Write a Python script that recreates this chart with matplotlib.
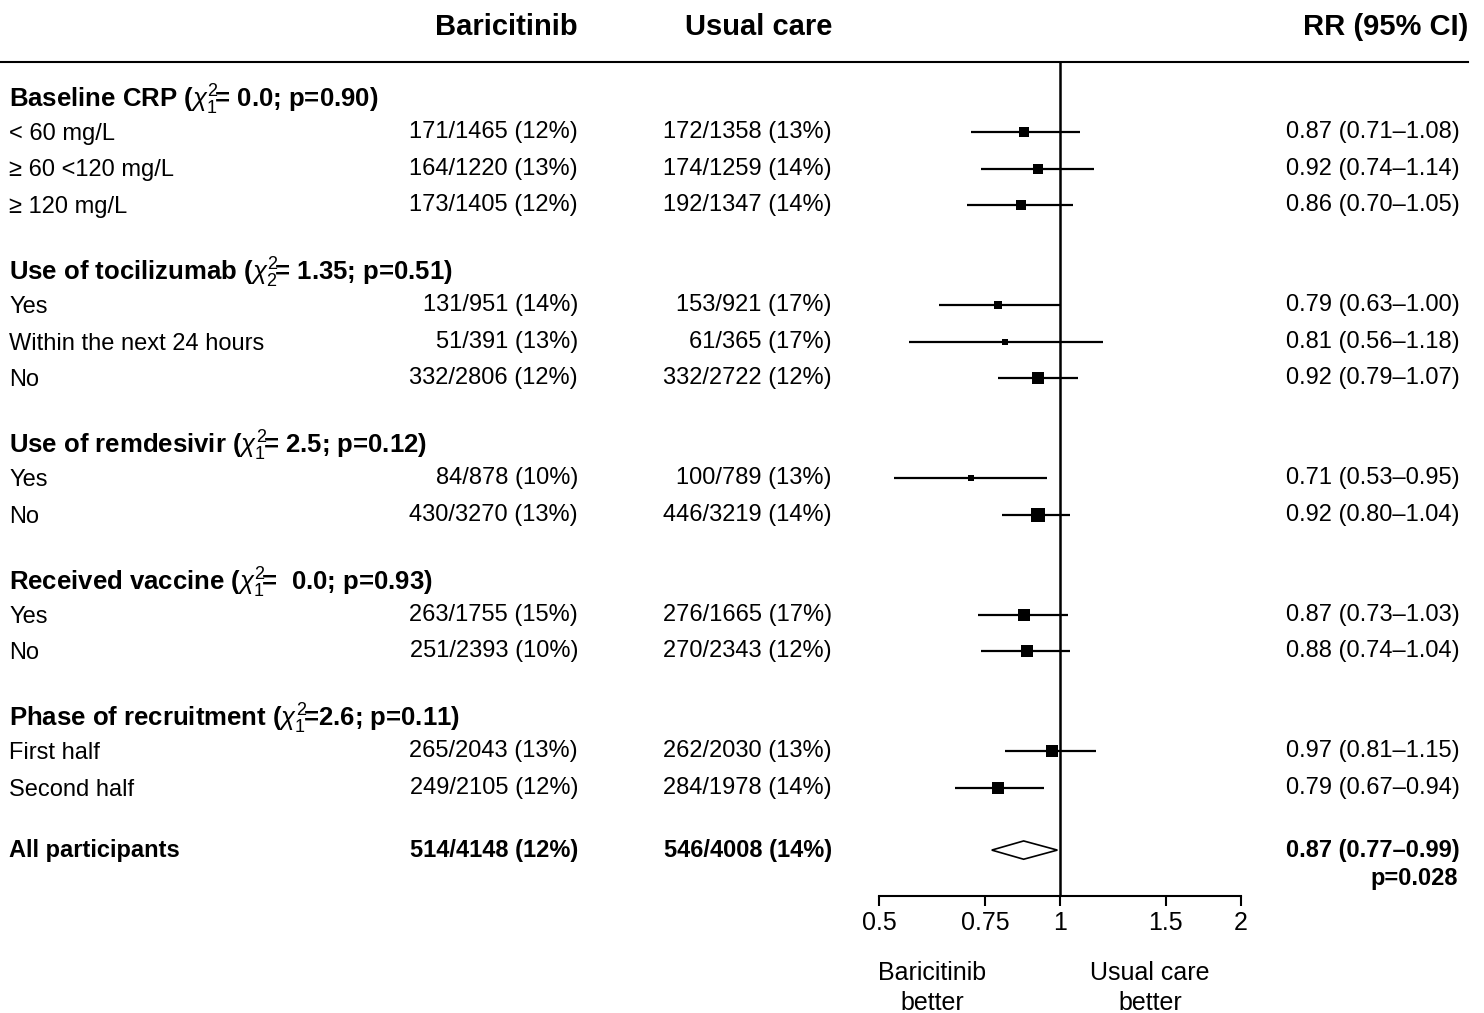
import numpy as np
import matplotlib
matplotlib.use('Agg')
import matplotlib.pyplot as plt
from matplotlib import transforms

plt.rcParams['font.family'] = ['Liberation Sans', 'DejaVu Sans']
plt.rcParams['mathtext.fontset'] = 'custom'
plt.rcParams['mathtext.rm'] = 'Liberation Sans'
plt.rcParams['mathtext.it'] = 'Liberation Sans:italic'
plt.rcParams['mathtext.bf'] = 'Liberation Sans:bold'

# Datos
grupos = [r'Baseline CRP ($\chi^2_1\!$= 0.0; p=0.90)',
          r'Use of tocilizumab ($\chi^2_2\!$= 1.35; p=0.51)',
          r'Use of remdesivir ($\chi^2_1\!$= 2.5; p=0.12)',
          r'Received vaccine ($\chi^2_1\!$=  0.0; p=0.93)',
          r'Phase of recruitment ($\chi^2_1\!$=2.6; p=0.11)']
n_por_grupo = [3, 3, 2, 2, 2]

etiquetas = ['< 60 mg/L', '\u2265 60 <120 mg/L', '\u2265 120 mg/L',
             'Yes', 'Within the next 24 hours', 'No',
             'Yes', 'No',
             'Yes', 'No',
             'First half', 'Second half']
baricitinib = ['171/1465 (12%)', '164/1220 (13%)', '173/1405 (12%)',
               '131/951 (14%)', '51/391 (13%)', '332/2806 (12%)',
               '84/878 (10%)', '430/3270 (13%)',
               '263/1755 (15%)', '251/2393 (10%)',
               '265/2043 (13%)', '249/2105 (12%)']
usual = ['172/1358 (13%)', '174/1259 (14%)', '192/1347 (14%)',
         '153/921 (17%)', '61/365 (17%)', '332/2722 (12%)',
         '100/789 (13%)', '446/3219 (14%)',
         '276/1665 (17%)', '270/2343 (12%)',
         '262/2030 (13%)', '284/1978 (14%)']
rr = [0.87, 0.92, 0.86, 0.79, 0.81, 0.92, 0.71, 0.92, 0.87, 0.88, 0.97, 0.79]
lo = [0.71, 0.74, 0.70, 0.63, 0.56, 0.79, 0.53, 0.80, 0.73, 0.74, 0.81, 0.67]
hi = [1.08, 1.14, 1.05, 1.00, 1.18, 1.07, 0.95, 1.04, 1.03, 1.04, 1.15, 0.94]
tam = [10, 10, 10, 9, 6, 13, 7, 15, 12, 12, 12, 12]  # lado del cuadrado (px)

total_bari = '514/4148 (12%)'
total_usual = '546/4008 (14%)'
total_rr, total_lo, total_hi = 0.87, 0.77, 0.99
total_p = 'p=0.028'

ticks = [0.5, 0.75, 1, 1.5, 2]

# Posiciones de filas (en unidades de fila)
y_filas = []
y_grupos = []
y = 0.0
for g, n in enumerate(n_por_grupo):
    if g > 0:
        y += 2.73
    y_grupos.append(y - 0.88)
    for k in range(n):
        y_filas.append(y)
        y += 1
    y -= 1
y_total = y + 1.7

W, H = 1484, 1013
fig = plt.figure(figsize=(W / 100, H / 100), dpi=100)
ax = fig.add_axes([879 / W, (H - 896) / H, (1241 - 879) / W, (896 - 62) / H])
ax.set_xscale('log', base=2)
ax.set_xlim(0.5, 2)
ax.set_ylim((896 - 132) / 36.6, (62 - 132) / 36.6)

# Intervalos y cuadrados
for i in range(len(rr)):
    ax.plot([lo[i], hi[i]], [y_filas[i], y_filas[i]], color='black', lw=1.6,
            solid_capstyle='butt')
    ax.plot(rr[i], y_filas[i], marker='s', color='black', markersize=tam[i] / 1.389,
            markeredgewidth=0)

# Diamante global
h = 0.25
ax.fill([total_lo, total_rr, total_hi, total_rr],
        [y_total, y_total - h, y_total, y_total + h],
        facecolor='white', edgecolor='black', lw=1.2)

ax.axvline(1, color='black', lw=1.8)

for s in ['top', 'right', 'left']:
    ax.spines[s].set_visible(False)
ax.spines['bottom'].set_linewidth(1.5)
ax.set_yticks([])
ax.set_xticks(ticks)
ax.set_xticklabels(['0.5', '0.75', '1', '1.5', '2'])
ax.minorticks_off()
ax.tick_params(axis='x', direction='out', length=7, width=1.5, labelsize=18, pad=4)

# Textos
tr = transforms.blended_transform_factory(fig.transFigure, ax.transData)
x_lab = 9 / W
x_bari = 578 / W
x_usual = 832 / W
x_rr = 1460 / W
fs = 17

ax.plot([0, 1468 / W], [(62 - 132) / 36.6] * 2, transform=tr, color='black',
        lw=1.5, clip_on=False)

y_head = (27 - 132) / 36.6
ax.text(x_bari, y_head, 'Baricitinib', transform=tr, ha='right', va='center',
        fontsize=21, fontweight='bold')
ax.text(x_usual, y_head, 'Usual care', transform=tr, ha='right', va='center',
        fontsize=21, fontweight='bold')
ax.text(1468 / W, y_head, 'RR (95% CI)', transform=tr, ha='right', va='center',
        fontsize=21, fontweight='bold')

for g in range(len(grupos)):
    ax.text(x_lab, y_grupos[g], grupos[g], transform=tr, ha='left', va='center',
            fontsize=18.5, fontweight='bold')

for i in range(len(rr)):
    yy = y_filas[i]
    ax.text(x_lab, yy + 0.05, etiquetas[i], transform=tr, ha='left', va='center',
            fontsize=fs)
    ax.text(x_bari, yy, baricitinib[i], transform=tr, ha='right', va='center', fontsize=fs)
    ax.text(x_usual, yy, usual[i], transform=tr, ha='right', va='center', fontsize=fs)
    ax.text(x_rr, yy, f'{rr[i]:.2f} ({lo[i]:.2f}\u2013{hi[i]:.2f})', transform=tr,
            ha='right', va='center', fontsize=fs)

ax.text(x_lab, y_total, 'All participants', transform=tr, ha='left', va='center',
        fontsize=fs, fontweight='bold')
ax.text(x_bari, y_total, total_bari, transform=tr, ha='right', va='center',
        fontsize=fs, fontweight='bold')
ax.text(x_usual, y_total, total_usual, transform=tr, ha='right', va='center',
        fontsize=fs, fontweight='bold')
ax.text(x_rr, y_total, f'{total_rr:.2f} ({total_lo:.2f}\u2013{total_hi:.2f})',
        transform=tr, ha='right', va='center', fontsize=fs, fontweight='bold')
ax.text(1458 / W, y_total + 0.77, total_p, transform=tr, ha='right', va='center',
        fontsize=fs, fontweight='bold')

fig.text(932 / W, 1 - 988 / H, 'Baricitinib\nbetter', ha='center', va='center',
         fontsize=18, linespacing=1.3)
fig.text(1150 / W, 1 - 988 / H, 'Usual care\nbetter', ha='center', va='center',
         fontsize=18, linespacing=1.3)

fig.savefig('out.png', dpi=100)
